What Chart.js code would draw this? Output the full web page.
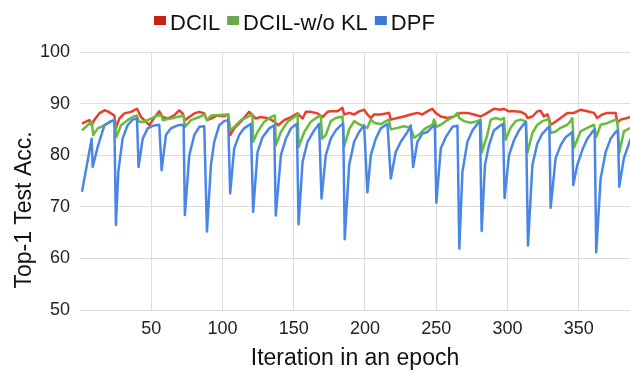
<!DOCTYPE html>
<html>
<head>
<meta charset="utf-8">
<script src="https://cdn.jsdelivr.net/npm/chart.js@4.4.1/dist/chart.umd.min.js"></script>
<style>
  html, body { margin: 0; padding: 0; background: #fff; }
  #wrap { width: 630px; height: 380px; position: relative; }
</style>
</head>
<body>
<div id="wrap"><canvas id="chart"></canvas></div>
<script>
// values (iteration, top-1 acc.)
const dcilIter = [1.4, 4.2, 6.5, 8.2, 10, 13.5, 17.1, 19.4, 21.7, 24.1, 25.2, 27.6, 31.1, 35.8, 40, 42.8, 46.3, 48.6, 51, 55.6, 58, 61.5, 66.1, 69.6, 72, 73.6, 76.7, 80.2, 83.7, 87.2, 89.1, 91.9, 96.6, 101.2, 104, 105.4, 108.2, 112.9, 116.4, 118.7, 121.1, 123.4, 126.9, 132.8, 136.3, 139.1, 143.3, 148, 152.7, 156.2, 158.5, 162, 166.7, 170.2, 173.7, 176, 180.7, 184.2, 185.4, 188.9, 192.4, 195.9, 199.4, 201.7, 204.1, 206.4, 211.1, 216.9, 218.1, 222.8, 227.4, 232.1, 236.8, 240.3, 243.8, 247.3, 249.6, 253.2, 257.9, 262.5, 267.2, 271.9, 276.5, 281.2, 285.9, 290.5, 295.2, 297.5, 301.1, 304.6, 309.3, 312.8, 314, 317.5, 321, 323.3, 325.6, 328, 329.1, 330.3, 332.6, 337.3, 342, 346.6, 351.3, 356, 360.7, 363, 366.5, 370, 375.9, 377.1, 379.4, 384.1, 386.4];
const dcilAcc = [86.1, 86.5, 86.8, 85.8, 86.8, 88.1, 88.7, 88.5, 88.1, 87.7, 85.2, 87.1, 88.1, 88.4, 89, 87.4, 86.5, 85.8, 86.8, 88.5, 87.4, 87.1, 87.7, 88.7, 88.1, 86.8, 87.4, 88.1, 88.4, 88.1, 86.8, 87.1, 87.7, 87.6, 87.9, 83.9, 85.2, 86.5, 87.7, 88.4, 87.7, 87.1, 87.4, 87.1, 86.5, 85.8, 86.8, 87.4, 88.1, 87.1, 88.4, 88.4, 88.1, 87.4, 88.4, 88.5, 88.5, 89.2, 87.9, 88.2, 87.9, 88.5, 88.8, 87.9, 87.2, 87.9, 87.9, 88.2, 86.9, 87.2, 87.5, 87.9, 88.2, 87.9, 88.5, 89, 88.2, 87.5, 87.2, 87.5, 88.2, 88.2, 87.9, 87.5, 88.2, 89, 88.8, 89, 88.5, 88.5, 88.4, 87.9, 87.2, 87.5, 88.5, 88.6, 87.5, 87.9, 87.2, 85.9, 86.3, 87.2, 88.2, 88.2, 88.8, 88.5, 88.2, 87.2, 87.9, 88.2, 88.2, 86.3, 86.9, 87.2, 87.5];

const wokIter = [1.4, 6.5, 8.2, 9.3, 12.4, 17.1, 21.7, 24.5, 25.5, 28.8, 33.4, 36.9, 40, 41.1, 45.1, 49.8, 54.5, 57.3, 58, 63.8, 68.5, 72.7, 73.6, 77.9, 83.7, 87.2, 89.1, 92, 104, 105.4, 108.2, 112.9, 117.6, 121, 121.5, 124.6, 129.3, 134, 136.8, 137.4, 141, 145.7, 150.4, 152.7, 153.4, 157.4, 162, 166.7, 169, 169.9, 172.5, 176, 179.5, 184.2, 185.4, 188.9, 192.4, 195.9, 199.4, 201.7, 204.1, 206.4, 211.1, 214.6, 216.9, 218.1, 222.8, 227.4, 232.1, 234.5, 238, 241.5, 245, 247.3, 248.5, 250.1, 253.2, 256.7, 262.5, 264.9, 266.1, 269.6, 274.2, 278.9, 281.2, 281.9, 285.9, 288.3, 291.8, 295.2, 297.5, 298.7, 302.2, 305.7, 309.3, 312.8, 314, 317.5, 321, 324.5, 328, 329.1, 330.3, 333.8, 337.3, 342, 344.3, 345.5, 346.6, 351.3, 356, 360.7, 362.3, 365.4, 370, 375.9, 377.1, 378.5, 381.7, 386.4];
const wokAcc = [84.8, 86.1, 86.5, 83.9, 85.2, 85.8, 86.5, 86.8, 83.5, 85.8, 86.8, 87.4, 87.7, 86.5, 86.5, 87.1, 87.7, 87.7, 86.8, 87.1, 87.4, 87.7, 85.5, 86.8, 87.4, 87.9, 86.8, 87.7, 87.9, 84.8, 85.5, 86.8, 87.4, 87.9, 82.6, 84.5, 86.5, 87.4, 87.7, 81.9, 84.5, 86.5, 87.4, 87.9, 81.6, 84.5, 86.5, 87.4, 87.7, 83.2, 83.9, 86.6, 87.2, 87.5, 81.7, 85, 86.6, 86, 85.6, 85.3, 86.9, 86.3, 86, 86.6, 86.9, 85, 85.3, 85.6, 85.3, 83.4, 84, 85, 85.6, 85.9, 86.9, 85.5, 85.9, 86.6, 87.5, 88.2, 87.2, 86.6, 86.3, 86.6, 86.9, 80.5, 84, 86.9, 87.2, 86.9, 87.2, 83, 85.3, 86.6, 86.9, 86.6, 80.5, 84.3, 85.9, 86.6, 86.9, 87.2, 84.3, 84.6, 85.3, 85.9, 86.6, 87.2, 81.4, 84.6, 85.3, 85.9, 83.5, 85.9, 86.2, 86.9, 86.6, 80.5, 84.6, 85.3];

const dpfIter = [1.4, 8.2, 8.9, 12.4, 17.1, 21.7, 24.1, 25.2, 26.9, 29.9, 33.4, 36.9, 40, 41.1, 44, 47.5, 51, 55.6, 57.3, 60.3, 63.8, 68.5, 72.7, 73.6, 76.7, 80.2, 83.7, 87.2, 89.1, 91.9, 94.2, 97.7, 101.2, 104, 105.4, 108.2, 111.7, 115.2, 119.9, 121.5, 124.6, 128.1, 132.8, 136.3, 137.4, 141, 144.5, 148, 152.2, 153.4, 156.2, 159.7, 164.3, 167.8, 169.5, 172.5, 176, 179.5, 183, 184.7, 185.8, 188.9, 192.4, 195.9, 199.4, 201.7, 204.1, 207.6, 211.1, 215.8, 218.1, 221.6, 225.1, 229.8, 232.1, 233.8, 236.8, 240.3, 243.8, 247.3, 249, 250.1, 253.2, 256.7, 261.4, 264.9, 266.2, 268.4, 271.9, 275.4, 278.9, 280.7, 281.9, 284.2, 287, 290.5, 295.2, 296.9, 298, 301.1, 304.6, 308.1, 311.6, 313, 314.4, 317.5, 321, 324.5, 328, 329.4, 330.3, 333.8, 337.3, 340.8, 344.3, 345.5, 346.2, 349, 352.5, 356, 359.5, 361.2, 362.3, 365.4, 368.9, 372.4, 375.9, 377.5, 378.5, 381.7, 386.4];
const dpfAcc = [72.9, 83.2, 77.7, 81.6, 85.8, 86.6, 86.8, 66.5, 76.8, 83.2, 85.8, 86.9, 87.1, 77.7, 83.2, 85.2, 85.7, 85.9, 77.1, 83.9, 85.2, 85.8, 85.9, 68.4, 80, 83.9, 85.5, 85.6, 65.2, 78.1, 82.6, 85.8, 86.6, 86.8, 72.6, 81.3, 83.9, 85.2, 86.1, 69.0, 80.6, 83.5, 85.2, 85.8, 68.3, 80, 83.2, 85.2, 86.1, 66.6, 78.7, 82.6, 84.8, 86.1, 71.6, 80, 83.2, 84.8, 85.8, 86.1, 63.7, 78.1, 82.6, 84.5, 85.8, 72.8, 80, 83.2, 85.2, 86.1, 75.5, 80.6, 82.6, 84.5, 85.8, 77.7, 82.6, 84.2, 84.5, 85.5, 85.8, 70.8, 81.3, 83.5, 85.5, 85.7, 61.9, 76.8, 82.6, 84.8, 86.1, 86.5, 65.3, 78.1, 81.9, 84.8, 85.8, 86, 71.7, 80, 82.9, 84.8, 86.1, 86.4, 62.5, 78.1, 82.3, 84.2, 85.2, 85.6, 69.8, 79.4, 81.9, 83.5, 84.2, 84.5, 74.2, 78.1, 81, 83.2, 84.5, 85, 61.2, 75.5, 80.6, 83.2, 84.5, 84.8, 73.9, 79.4, 83.2];

const seriesNames = ['DCIL', 'DCIL-w/o KL', 'DPF'];
const lineColors = ['#e8402e', '#67bd3a', '#4a86e8'];
const legendColors = ['#cc1f14', '#6aa84f', '#3c78d8'];
const yTicks = [50, 60, 70, 80, 90, 100];

const FONT = '"Liberation Sans", Arial, sans-serif';

function toPoints(xs, ys) {
  return xs.map((x, i) => ({ x: x, y: ys[i] }));
}

// legend + rotated y title drawn by hand so spacing matches
const extrasPlugin = {
  id: 'extras',
  afterDraw(chart) {
    const ctx = chart.ctx;
    ctx.save();
    ctx.font = '22px ' + FONT;
    ctx.textBaseline = 'alphabetic';
    ctx.textAlign = 'left';
    let x = 154;
    seriesNames.forEach((name, i) => {
      ctx.fillStyle = legendColors[i];
      ctx.fillRect(x, 16, 12, 9);
      ctx.fillStyle = '#111';
      ctx.fillText(name, x + 16, 30);
      x += 16 + ctx.measureText(name).width + 7;
    });

    ctx.translate(25, 210);
    ctx.rotate(-Math.PI / 2);
    ctx.font = '23px ' + FONT;
    ctx.textAlign = 'center';
    ctx.textBaseline = 'middle';
    ctx.fillStyle = '#111';
    ctx.fillText('Top-1 Test Acc.', 0, 0);
    ctx.restore();
  }
};

const datasets = [
  toPoints(dcilIter, dcilAcc),
  toPoints(wokIter, wokAcc),
  toPoints(dpfIter, dpfAcc)
].map((pts, i) => ({
  label: seriesNames[i],
  data: pts,
  borderColor: lineColors[i],
  backgroundColor: lineColors[i],
  borderWidth: 2.5,
  pointRadius: 0,
  tension: 0,
  borderJoinStyle: 'round',
  order: 2 - i
}));

new Chart(document.getElementById('chart'), {
  type: 'line',
  data: { datasets: datasets },
  options: {
    responsive: true,
    maintainAspectRatio: false,
    animation: false,
    devicePixelRatio: 1,
    layout: { padding: { top: 52, right: 0, left: 0, bottom: 0 } },
    plugins: {
      legend: { display: false },
      tooltip: { enabled: false }
    },
    scales: {
      x: {
        type: 'linear',
        min: 0,
        max: 386,
        border: { display: false },
        grid: {
          drawTicks: false,
          color: (c) => (c.tick && c.tick.value === 0 ? 'rgba(0,0,0,0)' : '#dcdcdc')
        },
        ticks: {
          stepSize: 50,
          includeBounds: false,
          padding: 8,
          color: '#222',
          font: { family: FONT, size: 18 },
          callback: (v) => (v === 0 ? '' : v)
        },
        title: {
          display: true,
          text: 'Iteration in an epoch',
          color: '#111',
          font: { family: FONT, size: 23 },
          padding: { top: 0, bottom: 8 }
        },
        afterFit: (scale) => { scale.height = 70; }
      },
      y: {
        min: 50,
        max: 100,
        border: { display: false },
        grid: { drawTicks: false, color: '#dcdcdc' },
        afterBuildTicks: (scale) => { scale.ticks = yTicks.map(v => ({ value: v })); },
        ticks: {
          padding: 10,
          color: '#222',
          font: { family: FONT, size: 18 }
        },
        afterFit: (scale) => { scale.width = 80; }
      }
    }
  },
  plugins: [extrasPlugin]
});
</script>
</body>
</html>
